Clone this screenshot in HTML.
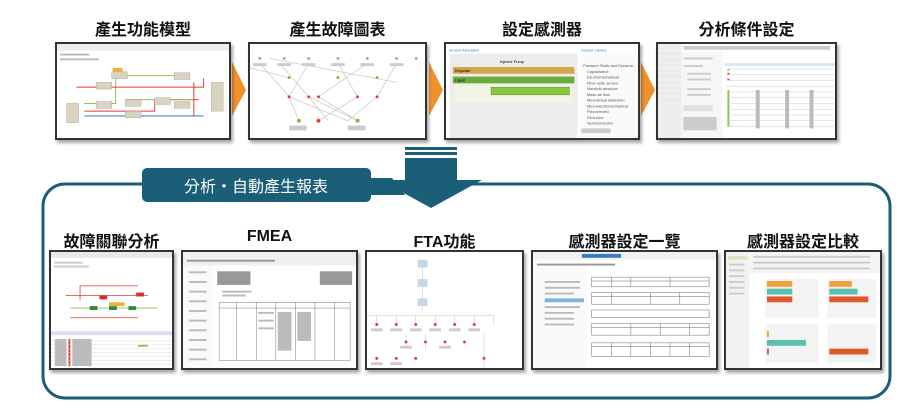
<!DOCTYPE html>
<html><head><meta charset="utf-8">
<style>
body{margin:0;width:900px;height:408px;background:#fff;position:relative;overflow:hidden;font-family:"Liberation Sans","Noto Sans CJK TC",sans-serif;}
.t{position:absolute;font-size:16px;color:#111;text-align:center;white-space:nowrap;font-weight:bold;}
.s{position:absolute;border:2px solid #333;background:#fff;box-shadow:2px 3px 3px rgba(0,0,0,.35);box-sizing:border-box;overflow:hidden;}
.s svg{position:absolute;left:0;top:0;width:100%;height:100%;}
</style></head><body>

<div class="t" style="left:55px;width:176px;top:16px;">產生功能模型</div>
<div class="t" style="left:248px;width:179px;top:16px;">產生故障圖表</div>
<div class="t" style="left:444px;width:196px;top:16px;">設定感測器</div>
<div class="t" style="left:656px;width:181px;top:16px;">分析條件設定</div>

<svg style="position:absolute;left:0;top:0" width="900" height="408">
<polygon points="232,62 246,90 232,116" fill="#f0922c"/>
<polygon points="429,62 443,90 429,116" fill="#f0922c"/>
<polygon points="641,62 655,90 641,116" fill="#f0922c"/>
<rect x="43" y="184" width="847" height="214" rx="22" fill="none" stroke="#1b5e78" stroke-width="3"/>
<rect x="405" y="147" width="52" height="3" fill="#1b5e78"/>
<rect x="405" y="152" width="52" height="3" fill="#1b5e78"/>
<rect x="405" y="158" width="52" height="24" fill="#1b5e78"/>
<polygon points="380,180 482,180 431,208" fill="#1b5e78"/>
<rect x="142" y="168" width="229" height="34" rx="5" fill="#1b5e78"/>
<polygon points="371,178 392,178 405,195 371,195" fill="#1b5e78"/>
<text x="256" y="192" font-size="16" fill="#fff" text-anchor="middle" font-family="Liberation Sans, Noto Sans CJK TC, sans-serif">分析・自動產生報表</text>
</svg>

<div class="s" style="left:55px;top:42px;width:176px;height:98px;">
<svg viewBox="0 0 176 98" preserveAspectRatio="none">
<rect width="176" height="7" fill="#e8eef4"/>
<g fill="#bbb"><rect x="3" y="10" width="30" height="2"/><rect x="3" y="15" width="40" height="2"/></g>
<g stroke-width="1" fill="none">
<path d="M28,62 H60 V33 H120" stroke="#8bc34a"/>
<path d="M20,45 H150 V36" stroke="#e53935"/>
<path d="M28,70 H100 V58 H145" stroke="#e53935"/>
<path d="M28,75 H80 H150" stroke="#1e63b5"/>
<path d="M70,58 H140" stroke="#8bc34a"/>
<path d="M140,40 V75" stroke="#e53935"/>
</g>
<g fill="#d9d3c0" stroke="#999" stroke-width=".4">
<rect x="56" y="29" width="16" height="7"/><rect x="120" y="30" width="16" height="7"/>
<rect x="40" y="40" width="16" height="7"/><rect x="40" y="60" width="16" height="7"/>
<rect x="70" y="58" width="16" height="7"/><rect x="100" y="56" width="16" height="7"/>
<rect x="120" y="60" width="16" height="7"/><rect x="70" y="70" width="16" height="7"/>
<rect x="10" y="62" width="12" height="20"/><rect x="158" y="40" width="12" height="30"/>
</g>
<rect x="57" y="25" width="10" height="4" fill="#f0b040"/>
</svg></div>

<div class="s" style="left:248px;top:42px;width:179px;height:98px;">
<svg viewBox="0 0 179 98" preserveAspectRatio="none">
<g stroke="#ccc" stroke-width=".8">
<path d="M10,20 L40,55 M30,20 L60,55 M60,20 L40,55 M90,20 L110,55 M120,20 L70,55 M150,20 L130,55 M40,55 L50,80 M60,55 L80,80 M110,55 L70,80 M130,55 L100,80 M70,55 L110,80 M20,15 L150,40 M0,25 L40,35 M60,55 L110,80 M40,55 L100,80"/>
</g>
<g fill="#ccc"><rect x="3" y="20" width="14" height="3"/><rect x="28" y="20" width="14" height="3"/><rect x="53" y="20" width="14" height="3"/><rect x="83" y="20" width="14" height="3"/><rect x="113" y="20" width="14" height="3"/><rect x="143" y="20" width="14" height="3"/><rect x="40" y="85" width="18" height="5"/><rect x="100" y="85" width="18" height="5"/></g>
<g fill="#9aa8c8"><circle cx="10" cy="15" r="1.5"/><circle cx="35" cy="15" r="1.5"/><circle cx="60" cy="15" r="1.5"/><circle cx="90" cy="15" r="1.5"/><circle cx="120" cy="15" r="1.5"/><circle cx="150" cy="15" r="1.5"/><circle cx="170" cy="15" r="1.5"/></g>
<g fill="#7cb342"><circle cx="40" cy="35" r="1.5"/><circle cx="90" cy="35" r="1.5"/><circle cx="130" cy="35" r="1.5"/><circle cx="50" cy="80" r="2"/><circle cx="110" cy="80" r="2"/></g>
<g fill="#e53935"><circle cx="40" cy="55" r="1.5"/><circle cx="60" cy="55" r="1.5"/><circle cx="70" cy="55" r="1.5"/><circle cx="110" cy="55" r="1.5"/><circle cx="130" cy="55" r="1.5"/><circle cx="70" cy="80" r="2"/></g>
</svg></div>

<div class="s" style="left:444px;top:42px;width:196px;height:98px;">
<svg viewBox="0 0 196 98" preserveAspectRatio="none">
<rect x="4" y="10" width="130" height="88" fill="#ececec"/>
<rect x="134" y="10" width="62" height="88" fill="#fafafa"/>
<text x="3" y="8" font-size="4" fill="#3b7bbf">Sensor Allocation</text>
<text x="138" y="8" font-size="4" fill="#3b7bbf">Sensor Library</text>
<text x="55" y="20" font-size="4">Injector Pump</text>
<rect x="7" y="24" width="124" height="7" fill="#d4a64a"/>
<text x="9" y="29" font-size="4">Regulate</text>
<rect x="7" y="34" width="124" height="7" fill="#6aab3c"/>
<text x="9" y="39" font-size="4">Liquid</text>
<rect x="9" y="43" width="120" height="18" fill="#f2f5e6"/>
<rect x="46" y="45" width="80" height="8" fill="#8cc63f" stroke="#5a8a2a" stroke-width=".5"/>
<g fill="#555" font-size="4"><text x="140" y="24">Pressure Static and Dynamic</text><text x="144" y="30">Capacitative</text><text x="144" y="36">Electromechanical</text><text x="144" y="42">Fiber optic sensor</text><text x="144" y="48">Manifold absolute</text><text x="144" y="54">Mass air flow</text><text x="144" y="60">Mechanical deflection</text><text x="144" y="66">Microelectromechanical</text><text x="144" y="72">Piezoelectric</text><text x="144" y="78">Pitot tube</text><text x="144" y="84">Semiconductor</text></g>
<rect x="138" y="88" width="30" height="5" fill="#ccc"/>
</svg></div>

<div class="s" style="left:656px;top:42px;width:181px;height:98px;">
<svg viewBox="0 0 181 98" preserveAspectRatio="none">
<rect x="0" y="0" width="24" height="98" fill="#eee"/>
<rect x="24" y="8" width="42" height="90" fill="#f6f6f6"/>
<rect x="26" y="64" width="30" height="6" fill="#e0e0e0"/>
<g fill="#ccc"><rect x="26" y="14" width="30" height="2"/><rect x="26" y="22" width="20" height="2"/><rect x="30" y="30" width="24" height="2"/><rect x="30" y="36" width="24" height="2"/><rect x="30" y="46" width="24" height="2"/><rect x="30" y="52" width="24" height="2"/><rect x="26" y="76" width="34" height="14"/><rect x="26" y="2" width="150" height="4"/></g>
<g stroke="#ddd" stroke-width=".5"><path d="M0,10H24M0,16H24M0,22H24M0,28H24M0,34H24M0,40H24M0,46H24M0,52H24M0,58H24"/></g>
<rect x="68" y="20" width="113" height="3" fill="#d6e8f7"/>
<g fill="#8bc34a"><rect x="71" y="26" width="2" height="2"/><rect x="71" y="48" width="2" height="38"/></g>
<g fill="#e53935"><rect x="71" y="30" width="2" height="2"/><rect x="71" y="36" width="2" height="2"/></g>
<g stroke="#ccc" stroke-width=".5"><path d="M70,26H180M70,32H180M70,38H180M70,44H180M70,50H180M70,56H180M70,62H180M70,68H180M70,74H180M70,80H180M70,86H180"/></g>
<g fill="#bbb"><rect x="100" y="48" width="4" height="40"/><rect x="130" y="48" width="4" height="40"/><rect x="155" y="48" width="4" height="40"/></g>
</svg></div>

<div class="t" style="left:49px;width:125px;top:228px;">故障關聯分析</div>
<div class="t" style="left:181px;width:177px;top:228px;">FMEA</div>
<div class="t" style="left:365px;width:159px;top:228px;">FTA功能</div>
<div class="t" style="left:531px;width:187px;top:228px;">感測器設定一覽</div>
<div class="t" style="left:724px;width:158px;top:228px;">感測器設定比較</div>

<div class="s" style="left:49px;top:250px;width:125px;height:120px;">
<svg viewBox="0 0 125 120" preserveAspectRatio="none">
<rect width="125" height="6" fill="#e8e8f0"/>
<g fill="#ccc"><rect x="3" y="10" width="30" height="2"/><rect x="3" y="14" width="36" height="2"/></g>
<g stroke-width=".8" fill="none"><path d="M15,45 H100 M30,50 V35 H90" stroke="#e53935"/><path d="M20,58 H110" stroke="#8bc34a"/><path d="M20,68 H90" stroke="#e53935"/></g>
<g fill="#2e8b3a"><rect x="40" y="56" width="8" height="4"/><rect x="60" y="56" width="8" height="4"/><rect x="80" y="56" width="8" height="4"/></g>
<rect x="60" y="52" width="16" height="4" fill="#f0b040"/>
<rect x="88" y="42" width="8" height="4" fill="#d32f2f"/><rect x="50" y="45" width="8" height="4" fill="#d32f2f"/>
<rect x="0" y="82" width="125" height="4" fill="#dde"/>
<g fill="#e53935"><rect x="18" y="90" width="2" height="28"/></g>
<g stroke="#ddd" stroke-width=".5"><path d="M0,92H125M0,96H125M0,100H125M0,104H125M0,108H125M0,112H125M0,116H125"/></g>
<g fill="#bbb"><rect x="4" y="90" width="12" height="28"/><rect x="22" y="90" width="20" height="28"/></g>
<rect x="90" y="96" width="10" height="2" fill="#8bc34a"/>
</svg></div>

<div class="s" style="left:181px;top:250px;width:177px;height:120px;">
<svg viewBox="0 0 177 120" preserveAspectRatio="none">
<rect width="177" height="14" fill="#f0f0f0"/>
<g fill="#999"><rect x="4" y="8" width="90" height="2"/></g>
<rect x="0" y="14" width="30" height="106" fill="#fafafa"/>
<g fill="#bbb"><rect x="6" y="20" width="18" height="2"/><rect x="6" y="30" width="18" height="2"/><rect x="6" y="40" width="18" height="2"/><rect x="6" y="50" width="18" height="2"/><rect x="6" y="60" width="18" height="2"/><rect x="6" y="70" width="18" height="2"/><rect x="6" y="80" width="18" height="2"/><rect x="6" y="90" width="18" height="2"/><rect x="6" y="100" width="18" height="2"/><rect x="6" y="110" width="18" height="2"/></g>
<rect x="35" y="20" width="34" height="14" fill="#999"/><rect x="140" y="20" width="33" height="14" fill="#999"/>
<g fill="none" stroke="#777" stroke-width=".5"><rect x="37" y="52" width="134" height="60"/><path d="M37,58H171M55,52V112M75,52V112M95,52V112M115,52V112M135,52V112M155,52V112"/></g>
<g fill="#bbb"><rect x="40" y="40" width="30" height="2"/><rect x="40" y="44" width="24" height="2"/><rect x="77" y="62" width="16" height="2"/><rect x="77" y="70" width="16" height="2"/><rect x="77" y="78" width="16" height="2"/><rect x="97" y="62" width="14" height="40"/><rect x="117" y="62" width="14" height="30"/></g>
</svg></div>

<div class="s" style="left:365px;top:250px;width:159px;height:120px;">
<svg viewBox="0 0 159 120" preserveAspectRatio="none">
<g stroke="#bbb" stroke-width=".5" fill="none"><path d="M57,10V60 M0,66H130 M10,66V75 M30,66V75 M50,66V75 M70,66V75 M90,66V75 M110,66V75 M130,66V75 M40,85V98 M60,85V100 M120,85V120"/></g>
<g fill="#c5d8ea"><rect x="52" y="8" width="10" height="8"/><rect x="52" y="28" width="10" height="8"/><rect x="52" y="48" width="10" height="8"/></g>
<g fill="#e53935"><circle cx="10" cy="75" r="1.5"/><circle cx="30" cy="75" r="1.5"/><circle cx="50" cy="75" r="1.5"/><circle cx="70" cy="75" r="1.5"/><circle cx="90" cy="75" r="1.5"/><circle cx="110" cy="75" r="1.5"/><circle cx="40" cy="93" r="1.5"/><circle cx="60" cy="93" r="1.5"/><circle cx="80" cy="93" r="1.5"/><circle cx="100" cy="93" r="1.5"/><circle cx="10" cy="110" r="1.5"/><circle cx="30" cy="110" r="1.5"/><circle cx="50" cy="110" r="1.5"/><circle cx="120" cy="110" r="1.5"/></g>
<g fill="#ccc"><rect x="4" y="79" width="12" height="3"/><rect x="24" y="79" width="12" height="3"/><rect x="44" y="79" width="12" height="3"/><rect x="64" y="79" width="12" height="3"/><rect x="84" y="79" width="12" height="3"/><rect x="104" y="79" width="12" height="3"/><rect x="34" y="97" width="12" height="3"/><rect x="74" y="97" width="12" height="3"/><rect x="4" y="114" width="12" height="3"/><rect x="24" y="114" width="12" height="3"/></g>
</svg></div>

<div class="s" style="left:531px;top:250px;width:187px;height:120px;">
<svg viewBox="0 0 187 120" preserveAspectRatio="none">
<rect width="187" height="8" fill="#eef2f7"/>
<rect x="50" y="2" width="40" height="4" fill="#3b7bbf"/>
<g fill="#999"><rect x="4" y="12" width="80" height="2"/></g>
<rect x="0" y="16" width="55" height="104" fill="#fafafa"/>
<g fill="#bbb"><rect x="12" y="30" width="36" height="2"/><rect x="12" y="36" width="36" height="2"/><rect x="12" y="42" width="30" height="2"/><rect x="12" y="56" width="36" height="2"/><rect x="12" y="62" width="30" height="2"/><rect x="12" y="68" width="30" height="2"/><rect x="12" y="74" width="30" height="2"/></g>
<rect x="12" y="48" width="40" height="4" fill="#7fb0e0"/>
<g fill="none" stroke="#666" stroke-width=".5"><rect x="60" y="26" width="120" height="10"/><rect x="60" y="42" width="120" height="12"/><rect x="60" y="60" width="120" height="8"/><rect x="60" y="74" width="120" height="12"/><rect x="60" y="94" width="120" height="14"/>
<path d="M80,26V36M100,26V36M140,26V36M80,42V54M120,42V54M150,42V54M100,74V86M130,74V86M160,74V86M80,94V108M100,94V108M120,94V108M140,94V108M160,94V108M60,30H180M60,46H180M60,78H180M60,98H180"/></g>
</svg></div>

<div class="s" style="left:724px;top:250px;width:158px;height:120px;">
<svg viewBox="0 0 158 120" preserveAspectRatio="none">
<rect width="24" height="120" fill="#f2f2f2"/>
<rect x="2" y="4" width="20" height="4" fill="#d6e6c4"/>
<g fill="#ccc"><rect x="3" y="12" width="16" height="2"/><rect x="3" y="18" width="16" height="2"/><rect x="3" y="24" width="16" height="2"/><rect x="3" y="30" width="16" height="2"/><rect x="3" y="36" width="16" height="2"/><rect x="3" y="42" width="16" height="2"/></g>
<rect x="24" y="0" width="134" height="22" fill="#f4f4f4"/>
<g fill="#ccc"><rect x="28" y="4" width="120" height="2"/><rect x="28" y="10" width="120" height="2"/><rect x="28" y="16" width="120" height="2"/></g>
<rect x="40" y="28" width="55" height="40" fill="#f3f3f3"/><rect x="104" y="28" width="50" height="40" fill="#f3f3f3"/>
<rect x="40" y="75" width="55" height="40" fill="#f3f3f3"/><rect x="104" y="75" width="50" height="40" fill="#f3f3f3"/>
<rect x="42" y="30" width="26" height="6" fill="#f2a03a"/><rect x="42" y="38" width="26" height="6" fill="#5cc0b0"/><rect x="42" y="46" width="26" height="6" fill="#e0572c"/>
<rect x="106" y="30" width="23" height="6" fill="#f2a03a"/><rect x="106" y="38" width="29" height="6" fill="#5cc0b0"/><rect x="106" y="46" width="40" height="6" fill="#e0572c"/>
<rect x="42" y="82" width="2" height="6" fill="#f2a03a"/><rect x="42" y="91" width="40" height="6" fill="#5cc0b0"/><rect x="42" y="100" width="2" height="6" fill="#e0572c"/>
<rect x="106" y="100" width="40" height="6" fill="#e0572c"/>
</svg></div>

</body></html>
